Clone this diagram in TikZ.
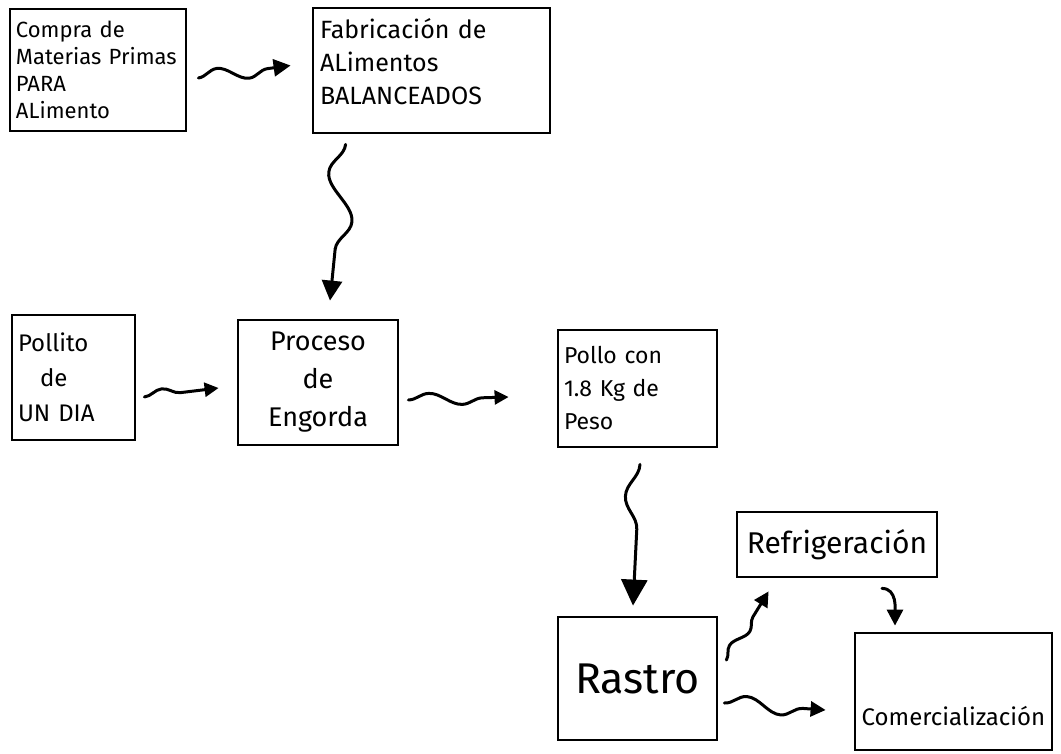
\documentclass[tikz,border=0pt]{standalone}
\usepackage{fontspec}
\setmainfont{Fira Sans}
\usetikzlibrary{arrows.meta,decorations.pathmorphing,calc}

\begin{document}
\begin{tikzpicture}[x=1pt,y=-1pt,
  stage/.style={draw, rectangle, line width=2.8pt, inner xsep=6pt, inner ysep=3pt, align=left},
  flow/.style={line width=3pt, line cap=round, decorate},
  head/.style={-{Triangle[length=#1,width=#1]}},
]
\useasboundingbox (0,0) rectangle (1061,753);

% process stages
\node[stage, minimum width=176pt, minimum height=122pt, text width=164pt,
      font=\fontsize{22}{27}\selectfont] (compra) at (98,70)
  {Compra de\\Materias Primas\\PARA\\ALimento};
\node[stage, minimum width=237pt, minimum height=125pt, text width=223pt,
      text height=0pt, text depth=65pt,
      font=\fontsize{25}{33}\selectfont] (fabrica) at (431.5,70.5)
  {Fabricación de\\ALimentos\\BALANCEADOS};
\node[stage, minimum width=123pt, minimum height=125pt, text width=111pt,
      font=\fontsize{24}{35}\selectfont] (pollito) at (73.5,377.5)
  {Pollito\\\hspace*{22pt}de\\UN DIA};
\node[stage, minimum width=160pt, minimum height=125pt, align=center,
      font=\fontsize{27}{38}\selectfont] (engorda) at (318,382.5)
  {Proceso\\de\\Engorda};
\node[stage, minimum width=159pt, minimum height=117pt, text width=147pt,
      font=\fontsize{23}{33}\selectfont] (pollo) at (637.5,388.5)
  {Pollo con\\1.8 Kg de\\Peso};
\node[stage, minimum width=159pt, minimum height=123pt, align=center,
      font=\fontsize{43}{45}\selectfont] (rastro) at (637.5,678.5)
  {Rastro};
\node[stage, minimum width=200pt, minimum height=65pt, align=center,
      font=\fontsize{30}{32}\selectfont] (refrig) at (837,544.5)
  {Refrigeración};
\node[stage, minimum width=197pt, minimum height=117pt, align=center,
      text height=67pt, text depth=0pt,
      font=\fontsize{24}{28}\selectfont] (comerc) at (953.5,691.5)
  {Comercialización};

% connector ends
\coordinate (a1s) at ($(compra.east)+(11,8)$);
\coordinate (a1e) at ($(fabrica.west)+(-21,-5)$);
\coordinate (a2s) at ($(fabrica.south west)+(34,10)$);
\coordinate (a2e) at ($(engorda.north)+(12,-18)$);
\coordinate (a3s) at ($(pollito.east)+(8,19.5)$);
\coordinate (a3e) at ($(engorda.west)+(-18,5.5)$);
\coordinate (a4s) at ($(engorda.east)+(9,17.5)$);
\coordinate (a4e) at ($(pollo.west)+(-48,8.5)$);
\coordinate (a5s) at ($(pollo.south)+(2.5,16)$);
\coordinate (a5e) at ($(rastro.north)+(-4.5,-10)$);
\coordinate (a6s) at ($(rastro.east)+(8,-18.5)$);
\coordinate (a6e) at ($(refrig.south west)+(33,13)$);
\coordinate (a7s) at ($(refrig.south)+(45,10)$);
\coordinate (a7e) at ($(comerc.north)+(-58.5,-6)$);
\coordinate (a8s) at ($(rastro.east)+(6,24.5)$);
\coordinate (a8e) at ($(comerc.west)+(-28,18.5)$);

% wavy connectors
\draw[flow, head=17pt, decoration={snake, amplitude=7pt, segment length=62pt, post length=16pt}] (a1s) -- (a1e);
\draw[flow, head=20pt, decoration={snake, mirror, amplitude=14pt, segment length=94pt, post length=40pt}] (a2s) -- (a2e);
\draw[flow, head=14pt, decoration={snake, amplitude=6pt, segment length=58pt, post length=14pt}] (a3s) -- (a3e);
\draw[flow, head=14pt, decoration={snake, amplitude=6pt, segment length=66pt, post length=16pt}] (a4s) -- (a4e);
\draw[flow, head=26pt, decoration={snake, mirror, amplitude=13pt, segment length=104pt, post length=34pt}] (a5s) -- (a5e);
\draw[flow, head=15pt, decoration={snake, amplitude=5pt, segment length=45pt, post length=14pt}] (a6s) -- (a6e);
\draw[line width=3pt, line cap=round, head=16pt] (a7s) to[out=0, in=90] (a7e);
\draw[flow, head=15pt, decoration={snake, amplitude=8pt, segment length=70pt, post length=16pt}] (a8s) -- (a8e);
\end{tikzpicture}
\end{document}
